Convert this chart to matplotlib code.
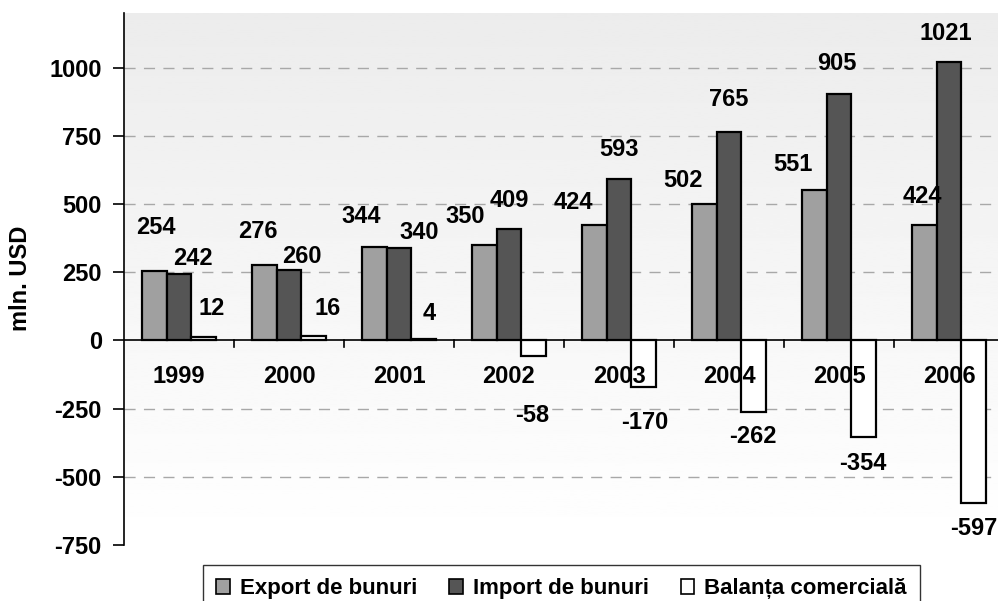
import matplotlib
matplotlib.use("Agg")
import matplotlib.pyplot as plt
from matplotlib.patches import Patch
import numpy as np

years = ["1999", "2000", "2001", "2002", "2003", "2004", "2005", "2006"]
export_vals = [254, 276, 344, 350, 424, 502, 551, 424]
import_vals = [242, 260, 340, 409, 593, 765, 905, 1021]
balance_vals = [12, 16, 4, -58, -170, -262, -354, -597]
series_names = ["Export de bunuri", "Import de bunuri", "Balanța comercială"]
yticks = [-750, -500, -250, 0, 250, 500, 750, 1000]

# label offsets in pixels (style only)
exp_off = [(2, 44), (-6, 34), (-13, 30), (-19, 29), (-21, 22), (-21, 23), (-21, 26), (-2, 28)]
imp_off = [(14, 16), (13, 13), (20, 15), (0, 28), (0, 29), (0, 32), (-2, 30), (-3, 29)]
bal_off = [(8, 29), (14, 28), (5, 26), (-2, -59), (1, -36), (-1, -25), (-1, -26), (0, -25)]

plt.rcParams['font.family'] = ['Liberation Sans', 'DejaVu Sans']
plt.rcParams['font.weight'] = 'bold'

fig = plt.figure(figsize=(9.98, 6.01), dpi=100)
ax = fig.add_axes([124/998, 1-545/601, 880/998, (545-13.2)/601])

ymin, ymax = -750, 1200
ax.set_xlim(-0.5, len(years)-0.5)
ax.set_ylim(ymin, ymax)

# gradient background
grad = np.linspace(1.0, 0.925, 256).reshape(-1, 1)
ax.imshow(grad, extent=[-0.5, len(years)-0.5, ymin, ymax], origin='lower',
          aspect='auto', cmap='gray', vmin=0, vmax=1, zorder=0)

for yv in yticks:
    if yv not in (0, -750):
        ax.axhline(yv, color='#a8a8a8', lw=1.0, ls=(0, (8, 6)), zorder=1)

x = np.arange(len(years))
w = 0.2245
colors = ['#a0a0a0', '#555555', '#ffffff']
vals = [export_vals, import_vals, balance_vals]
offs = [exp_off, imp_off, bal_off]
for i, (v, c) in enumerate(zip(vals, colors)):
    xs = x + (i-1)*w
    ax.bar(xs, v, width=w, color=c, edgecolor='black', linewidth=1.6, zorder=3)
    for xi, vi, (dx, dy) in zip(xs, v, offs[i]):
        ax.annotate(str(vi), (xi, vi), xytext=(dx, dy), textcoords='offset pixels',
                    ha='center', va='center', fontsize=17, fontweight='bold', zorder=5)

ax.axhline(0, color='black', lw=1.2, zorder=4)

for s in ['top', 'right', 'bottom']:
    ax.spines[s].set_visible(False)
ax.spines['left'].set_linewidth(1.2)
ax.spines['left'].set_zorder(5)

ax.set_yticks(yticks)
ax.set_yticklabels([str(t) for t in yticks], fontsize=17, fontweight='bold')
ax.tick_params(axis='y', direction='out', length=8, width=1.2, pad=8)

# category boundary ticks on the zero line
ax.set_xticks([])
for b in np.arange(0.5, len(years)-0.5, 1.0):
    ax.plot([b, b], [0, -250*7/68.3], color='black', lw=1.2, zorder=4, clip_on=False)
for xi, yr in zip(x, years):
    ax.annotate(yr, (xi, 0), xytext=(0, -36), textcoords='offset pixels',
                ha='center', va='center', fontsize=17, fontweight='bold')

fig.text(21/998, 1-278/601, 'mln. USD', rotation=90, ha='center', va='center',
         fontsize=17, fontweight='bold')

handles = [Patch(facecolor=c, edgecolor='black', linewidth=1.2) for c in colors]
leg = fig.legend(handles, series_names, loc='upper left',
                 bbox_to_anchor=(203/998, 1-565/601), ncol=3, frameon=True,
                 fancybox=False, borderaxespad=0,
                 prop={'weight': 'bold', 'size': 16},
                 handlelength=0.6, handleheight=0.6, handletextpad=0.45,
                 columnspacing=1.45, borderpad=0.6)
leg.get_frame().set_edgecolor('black')
leg.get_frame().set_linewidth(1.0)

fig.savefig('out.png', dpi=100)
